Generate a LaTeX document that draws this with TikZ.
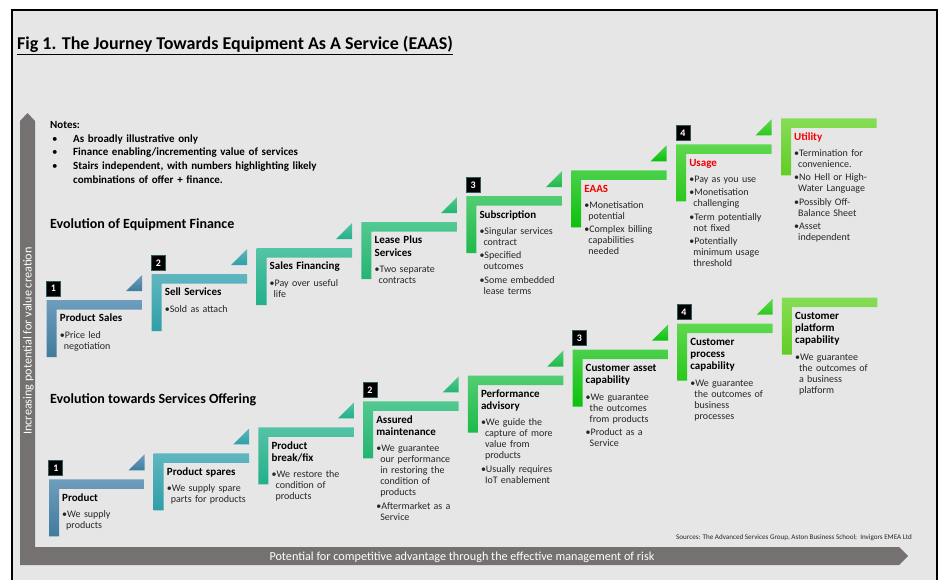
\documentclass[tikz,border=0pt]{standalone}
\usepackage{fontspec}
\setmainfont{Carlito}
\definecolor{bg}{HTML}{E7E6E6}
\definecolor{axisgray}{HTML}{767171}
\definecolor{txt}{HTML}{262626}
\definecolor{redt}{HTML}{F00000}
\definecolor{boxedge}{HTML}{2E5A5A}
\definecolor{c0t}{HTML}{6E9DBD}\definecolor{c0b}{HTML}{3F7C9D}
\definecolor{c1t}{HTML}{60B6C0}\definecolor{c1b}{HTML}{2F9FA7}
\definecolor{c2t}{HTML}{55C3A6}\definecolor{c2b}{HTML}{22B08A}
\definecolor{c3t}{HTML}{52C991}\definecolor{c3b}{HTML}{24B471}
\definecolor{c4t}{HTML}{52CD72}\definecolor{c4b}{HTML}{1DBA4A}
\definecolor{c5t}{HTML}{4AD14A}\definecolor{c5b}{HTML}{0CC10C}
\definecolor{c6t}{HTML}{5FD84F}\definecolor{c6b}{HTML}{2CC81C}
\definecolor{c7t}{HTML}{86DD56}\definecolor{c7b}{HTML}{62CD24}
\newcommand\bu{\par\vspace{2.3pt}\noindent\textbullet}
\newcommand\cl{\\\hspace*{4pt}}
\newcommand\sttl[2][black]{{\color{#1}\fontsize{11}{12.1}\selectfont\bfseries #2\par}\vspace{3.2pt}}
\tikzset{
  steptext/.style={anchor=base west, text width=92pt, align=left, inner sep=0pt,
    font=\fontsize{10}{11}\selectfont, text=txt},
  numbox/.style={fill=black, draw=boxedge, line width=0.8pt, minimum width=14pt,
    minimum height=15pt, inner sep=0pt, text=white, font=\fontsize{10}{10}\selectfont\bfseries},
  axistext/.style={inner sep=0pt, text=white, font=\fontsize{12.2}{13}\selectfont},
  heading/.style={anchor=base west, inner sep=0pt, font=\fontsize{14}{16}\selectfont\bfseries},
}
\begin{document}
\begin{tikzpicture}[x=1pt,y=-1pt]
\useasboundingbox (0,0) rectangle (949,579);
\clip (0,0) rectangle (949,579);
\fill[white] (0,0) rectangle (949,579);
\fill[bg] (12,10) rectangle (937,600);
\draw[line width=2pt] (12,600) -- (12,10) -- (937,10) -- (937,600);
% title
\node[anchor=base west, inner sep=0pt, font=\fontsize{18}{21}\selectfont\bfseries] (title) at (17,49.5)
  {\underline{Fig 1. The Journey Towards Equipment As A Service (EAAS)}};
% axes
\fill[axisgray] (20,121) -- (27.5,113) -- (35,121) -- (35,547) -- (899,547) -- (908,556) -- (899,565) -- (20,565) -- cycle;
\node[axistext, rotate=90, anchor=base] (yax) at (31.5,341) {Increasing potential for value creation};
\node[axistext, anchor=base west] (xax) at (269.3,560) {Potential for competitive advantage through the effective management of risk};
\node[anchor=base west, inner sep=0pt, text=txt, font=\fontsize{7.1}{8}\selectfont] (src) at (676,539.5)
  {Sources: The Advanced Services Group, Aston Business School;\ \ Invigors EMEA Ltd};
% notes
\node[anchor=base west, inner sep=0pt, text width=330pt, align=left, font=\fontsize{11}{13.7}\selectfont\bfseries] (notes) at (50,128.5)
  {Notes:\\
   \hspace*{2pt}\makebox[21pt][l]{\mdseries\textbullet}As broadly illustrative only\\
   \hspace*{2pt}\makebox[21pt][l]{\mdseries\textbullet}Finance enabling/incrementing value of services\\
   \hspace*{2pt}\makebox[21pt][l]{\mdseries\textbullet}Stairs independent, with numbers highlighting likely\\
   \hspace*{23pt}combinations of offer + finance.};
\node[heading] (h1) at (50,228) {Evolution of Equipment Finance};
\node[heading] (h2) at (50,403.5) {Evolution towards Services Offering};
% stairs shapes
\foreach \i in {0,...,7}{
  \pgfmathsetmacro\xa{46.7+104.9*\i}
  \pgfmathsetmacro\ya{300-25.95*\i}
  \pgfmathsetmacro\xb{49+104.7*\i}
  \pgfmathsetmacro\yb{479.3-25.94*\i}
  \path[top color=c\i t, bottom color=c\i b] (\xa,\ya) -- ++(95.5,0) -- ++(0,9.5) -- ++(-85.5,0) -- ++(0,47.5) -- ++(-10,0) -- cycle;
  \path[top color=c\i t, bottom color=c\i b] (\xb,\yb) -- ++(95.5,0) -- ++(0,9.5) -- ++(-85.5,0) -- ++(0,47.5) -- ++(-10,0) -- cycle;
  \ifnum\i<7
    \path[top color=c\i t, bottom color=c\i b] (\xa+95.5,\ya-25) -- (\xa+95.5,\ya-9) -- (\xa+79.5,\ya-9) -- cycle;
    \path[top color=c\i t, bottom color=c\i b] (\xb+95.5,\yb-25) -- (\xb+95.5,\yb-9) -- (\xb+79.5,\yb-9) -- cycle;
  \fi
}
% number boxes
\node[numbox] (tn1) at (53.5,288.7) {1};
\node[numbox] (tn2) at (158.4,262.75) {2};
\node[numbox] (tn3) at (473.1,184.9) {3};
\node[numbox] (tn4) at (682.9,133) {4};
\node[numbox] (bn1) at (55.8,468) {1};
\node[numbox] (bn2) at (369.9,390.18) {2};
\node[numbox] (bn3) at (579.3,338.3) {3};
\node[numbox] (bn4) at (684,312.36) {4};
% top row texts
\node[steptext] (t0) at (59.7,321.8) {\sttl{Product Sales}\bu Price led\cl negotiation};
\node[steptext] (t1) at (164.6,295.85) {\sttl{Sell Services}\bu Sold as attach};
\node[steptext] (t2) at (269.5,269.9) {\sttl{Sales Financing}\bu Pay over useful\cl life};
\node[steptext] (t3) at (374.4,243.95) {\sttl{Lease Plus\\Services}\bu Two separate\cl contracts};
\node[steptext] (t4) at (479.3,218) {\sttl{Subscription}\bu Singular services\cl contract\bu Specified\cl outcomes\bu Some embedded\cl lease terms};
\node[steptext] (t5) at (584.2,192.05) {\sttl[redt]{EAAS}\bu Monetisation\cl potential\bu Complex billing\cl capabilities\cl needed};
\node[steptext] (t6) at (689.1,166.1) {\sttl[redt]{Usage}\bu Pay as you use\bu Monetisation\cl challenging\bu Term potentially\cl not fixed\bu Potentially\cl minimum usage\cl threshold};
\node[steptext] (t7) at (794,140.15) {\sttl[redt]{Utility}\bu Termination for\cl convenience.\bu No Hell or High-\cl Water Language\bu Possibly Off-\cl Balance Sheet\bu Asset\cl independent};
% bottom row texts
\node[steptext] (b0) at (62,501.1) {\sttl{Product}\bu We supply\cl products};
\node[steptext] (b1) at (166.7,475.16) {\sttl{Product spares}\bu We supply spare\cl parts for products};
\node[steptext] (b2) at (271.4,449.22) {\sttl{Product\\break/fix}\bu We restore the\cl condition of\cl products};
\node[steptext] (b3) at (376.1,423.28) {\sttl{Assured\\maintenance}\bu We guarantee\cl our performance\cl in restoring the\cl condition of\cl products\bu Aftermarket as a\cl Service};
\node[steptext] (b4) at (480.8,397.34) {\sttl{Performance\\advisory}\bu We guide the\cl capture of more\cl value from\cl products\bu Usually requires\cl IoT enablement};
\node[steptext] (b5) at (585.5,371.4) {\sttl{Customer asset\\capability}\bu We guarantee\cl the outcomes\cl from products\bu Product as a\cl Service};
\node[steptext] (b6) at (690.2,345.46) {\sttl{Customer\\process\\capability}\bu We guarantee\cl the outcomes of\cl business\cl processes};
\node[steptext] (b7) at (794.9,319.52) {\sttl{Customer\\platform\\capability}\bu We guarantee\cl the outcomes of\cl a business\cl platform};
\end{tikzpicture}
\end{document}
